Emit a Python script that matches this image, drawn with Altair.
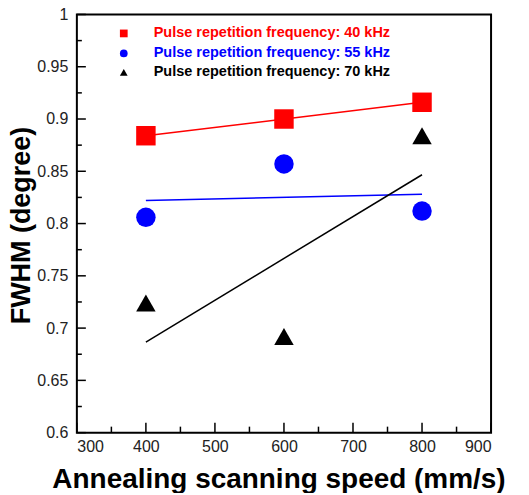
import altair as alt
import pandas as pd

speeds = [400, 600, 800]
fwhm_40 = [0.884, 0.900, 0.916]
fwhm_55 = [0.806, 0.857, 0.812]
fwhm_70 = [0.724, 0.692, 0.884]
series = ["Pulse repetition frequency: 40 kHz",
          "Pulse repetition frequency: 55 kHz",
          "Pulse repetition frequency: 70 kHz"]
colors = ["#ff0000", "#0000ff", "#000000"]
shapes = ["square", "circle", "triangle-up"]

x_major = [300, 400, 500, 600, 700, 800, 900]
x_minor = [350, 450, 550, 650, 750, 850]
y_major = [0.6, 0.65, 0.7, 0.75, 0.8, 0.85, 0.9, 0.95, 1.0]
y_minor = [0.625, 0.675, 0.725, 0.775, 0.825, 0.875, 0.925, 0.975]

W, H = 415, 419
FONT = "Liberation Sans"

rows = []
for s, vals in zip(series, [fwhm_40, fwhm_55, fwhm_70]):
    for sp, v in zip(speeds, vals):
        rows.append({"speed": sp, "fwhm": v, "freq": s})
df = pd.DataFrame(rows)

xs = alt.Scale(domain=[300, 900], nice=False, zero=False)
ys = alt.Scale(domain=[0.6, 1.0], nice=False, zero=False)
cs = alt.Scale(domain=series, range=colors)
ss = alt.Scale(domain=series, range=shapes)

xaxis = alt.Axis(values=x_major, grid=False, domain=False, ticks=False,
                 labelFont=FONT, labelFontSize=16, labelColor="#222",
                 labelPadding=6, title="Annealing scanning speed (mm/s)",
                 titleFont=FONT, titleFontSize=28, titleFontWeight=900,
                 titleColor="#000", titleX=202, titleY=47,
                 titleAlign="center", titleBaseline="middle")
yaxis = alt.Axis(values=y_major, grid=False, domain=False, ticks=False,
                 format=".2~f", labelFont=FONT, labelFontSize=16,
                 labelColor="#222", labelPadding=9, title="FWHM (degree)",
                 titleFont=FONT, titleFontSize=27, titleFontWeight=900,
                 titleColor="#000", titleX=-55, titleY=211, titleAngle=270,
                 titleAlign="center", titleBaseline="middle")

base = alt.Chart(df)
fits = base.transform_regression("speed", "fwhm", groupby=["freq"]).mark_line(
    strokeWidth=1.5).encode(
    x=alt.X("speed:Q", scale=xs, axis=xaxis),
    y=alt.Y("fwhm:Q", scale=ys, axis=yaxis),
    color=alt.Color("freq:N", scale=cs, legend=None),
    detail="freq:N",
)
pts = base.mark_point(filled=True, opacity=1, size=380).encode(
    x=alt.X("speed:Q", scale=xs),
    y=alt.Y("fwhm:Q", scale=ys),
    color=alt.Color("freq:N", scale=cs, legend=None),
    shape=alt.Shape("freq:N", scale=ss, legend=None),
)

tick_layers = []
for vals, ln in [(y_major, 9), (y_minor, 5)]:
    tick_layers.append(alt.Chart(pd.DataFrame({"v": vals})).mark_rule(
        color="black", strokeWidth=1.5).encode(
        y=alt.Y("v:Q", scale=ys), x=alt.value(0), x2=alt.value(ln)))
for vals, ln in [(x_major, 10), (x_minor, 6)]:
    tick_layers.append(alt.Chart(pd.DataFrame({"v": vals})).mark_rule(
        color="black", strokeWidth=1.5).encode(
        x=alt.X("v:Q", scale=xs), y=alt.value(H), y2=alt.value(H - ln)))

leg_layers = []
leg_y = [19, 39, 58]
for s, c, sh, yy in zip(series, colors, shapes, leg_y):
    d = pd.DataFrame({"label": [s]})
    leg_layers.append(alt.Chart(d).mark_point(
        filled=True, opacity=1, size=60, shape=sh, color=c).encode(
        x=alt.value(47), y=alt.value(yy)))
    leg_layers.append(alt.Chart(d).mark_text(
        align="left", baseline="middle", font=FONT, fontSize=14.5,
        fontWeight="bold", color=c).encode(
        text="label:N", x=alt.value(77), y=alt.value(yy)))

chart = alt.layer(fits, pts, *tick_layers, *leg_layers).properties(
    width=W, height=H,
    autosize=alt.AutoSizeParams(type="none"),
    padding={"left": 69, "top": 6, "right": 30, "bottom": 60},
).configure_view(stroke="black", strokeWidth=2)

chart.save("out.html", embed_options={"renderer": "svg", "actions": False})
